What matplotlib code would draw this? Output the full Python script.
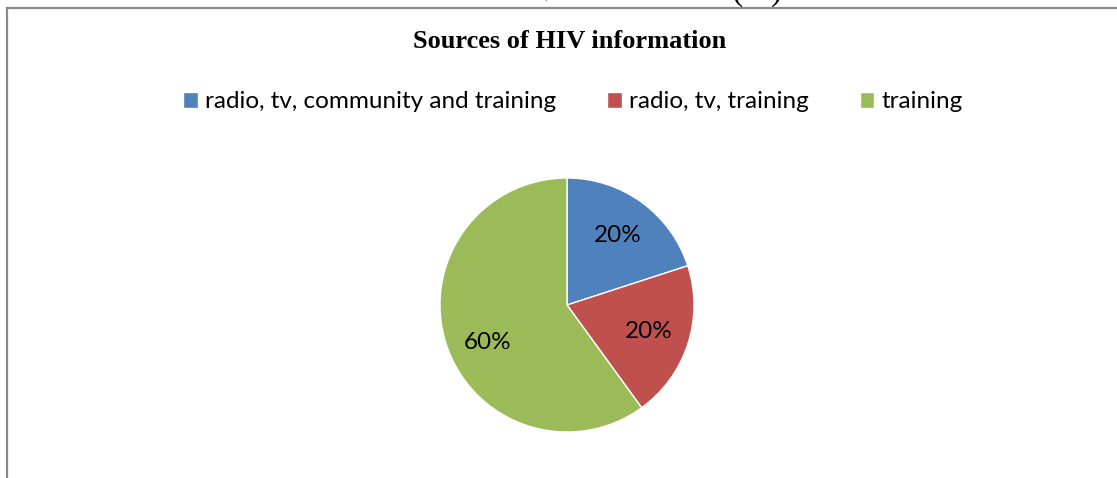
import numpy as np
import matplotlib
matplotlib.use("Agg")
import matplotlib.pyplot as plt
from matplotlib.lines import Line2D

# data
categories = ["radio, tv, community and training", "radio, tv, training", "training"]
shares = [20, 20, 60]
colors = ["#4F81BD", "#C0504D", "#9BBB59"]
chart_title = "Sources of HIV information"
caption = "Sources of HIV information (%)"

W, H = 1117, 478
fig = plt.figure(figsize=(W / 100, H / 100), dpi=100)

# caption of the document, cut off at the top edge (as in the source page)
fig.text(566 / W, 1.0, caption, family="Liberation Serif", fontsize=24,
         ha="center", va="baseline")

# chart frame (only top and left edges are visible)
fig.add_artist(Line2D([6.5 / W, 1], [1 - 7.5 / H, 1 - 7.5 / H], color="#898989", lw=1.6))
fig.add_artist(Line2D([6.5 / W, 6.5 / W], [0, 1 - 7.5 / H], color="#898989", lw=1.6))

fig.text(570 / W, 1 - 42 / H, chart_title, family="Liberation Serif",
         fontweight="bold", fontsize=19, ha="center", va="center")

# pie
r = 127
cx, cy = 567, 305
ax = fig.add_axes([(cx - r) / W, 1 - (cy + r) / H, 2 * r / W, 2 * r / H])
wedges, texts, autotexts = ax.pie(
    shares, colors=colors, startangle=90, counterclock=False,
    autopct="%1.0f%%", pctdistance=0.68,
    wedgeprops=dict(linewidth=1, edgecolor="white"),
    textprops=dict(family="Lato", fontsize=17.5, color="black"),
)
ax.set_xlim(-1, 1)
ax.set_ylim(-1, 1)
ax.set_aspect("equal")
ax.axis("off")

# the big slice label sits nearer the left side, as Excel places it
ang = np.deg2rad(205)
autotexts[2].set_position((0.69 * np.cos(ang), 0.69 * np.sin(ang)))

fig.legend(wedges, categories, loc="center", bbox_to_anchor=(573 / W, 1 - 102 / H),
           ncol=3, frameon=False, prop=dict(family="Lato", size=17.5),
           handlelength=0.6, handleheight=0.6, handletextpad=0.3,
           columnspacing=2.1)

fig.savefig("out.png", dpi=100)
